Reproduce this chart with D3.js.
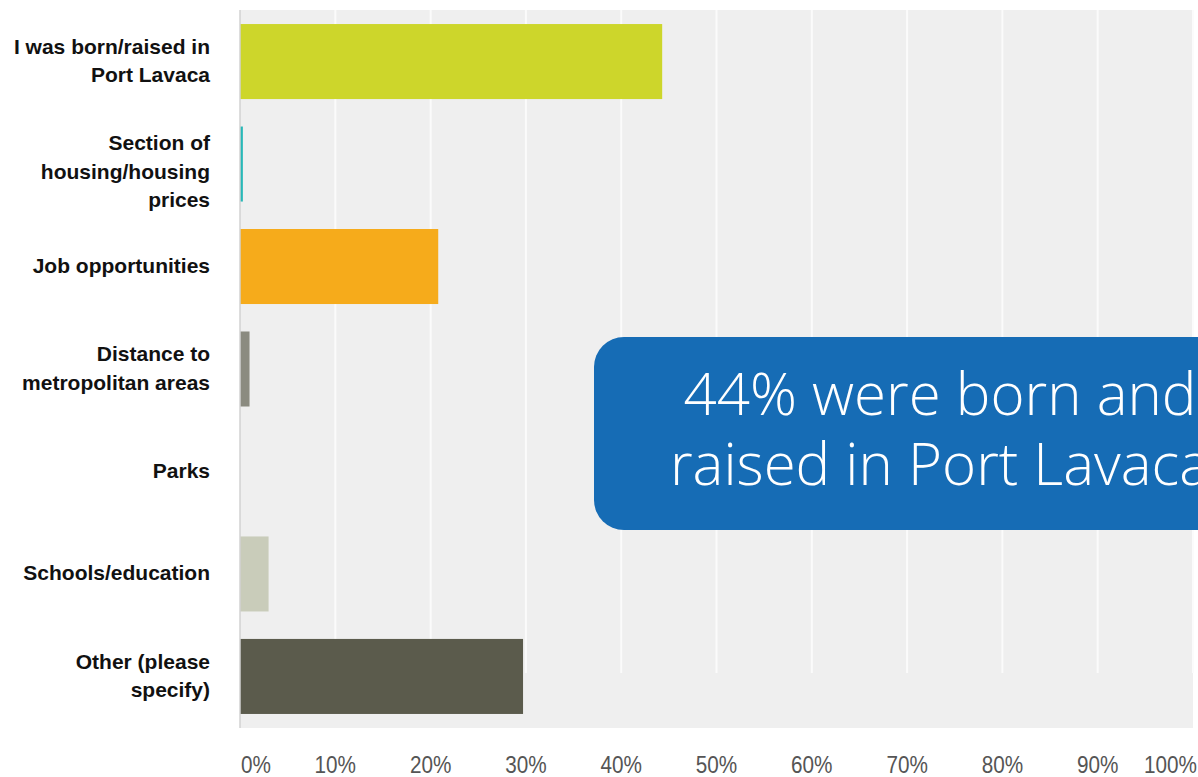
<!DOCTYPE html>
<html>
<head>
<meta charset="utf-8">
<script src="https://cdn.jsdelivr.net/npm/d3@7/dist/d3.min.js"></script>
<style>
  html, body { margin: 0; padding: 0; background: #ffffff; }
  svg { display: block; }
</style>
</head>
<body>
<svg id="chart" width="1198" height="777"></svg>
<script>
// Survey answers: reasons for living in Port Lavaca
const categories = [
  ["I was born/raised in", "Port Lavaca"],
  ["Section of", "housing/housing", "prices"],
  ["Job opportunities"],
  ["Distance to", "metropolitan areas"],
  ["Parks"],
  ["Schools/education"],
  ["Other (please", "specify)"]
];
const values = [44.3, 0.3, 20.8, 1.0, 0.0, 3.0, 29.7];
const barColors = ["#cdd62b", "#27b8b8", "#f6ab1b", "#8b8b80", "#cfd6c9", "#c9ccba", "#5b5b4c"];
const tickValues = [0, 10, 20, 30, 40, 50, 60, 70, 80, 90, 100];
const tickLabels = tickValues.map(v => v + "%");
const calloutLines = ["44% were born and", "raised in Port Lavaca"];

const svg = d3.select("#chart");
const plot = { left: 240, right: 1193, top: 10, bottom: 728 };

const x = d3.scaleLinear().domain([0, 100]).range([plot.left, plot.right]);
const y = d3.scaleBand()
  .domain(d3.range(categories.length))
  .range([plot.top, plot.bottom])
  .paddingInner(0.268)
  .paddingOuter(0.137);

// plot background
svg.append("rect")
  .attr("x", plot.left).attr("y", plot.top)
  .attr("width", plot.right - plot.left).attr("height", plot.bottom - plot.top)
  .attr("fill", "#efefef");

// vertical gridlines
svg.append("g")
  .selectAll("line")
  .data(tickValues.slice(1))
  .join("line")
  .attr("x1", d => x(d)).attr("x2", d => x(d))
  .attr("y1", plot.top).attr("y2", 673)
  .attr("stroke", "#fbfbfb")
  .attr("stroke-width", 2);

// bars
svg.append("g")
  .selectAll("rect")
  .data(values)
  .join("rect")
  .attr("x", x(0))
  .attr("y", (d, i) => y(i))
  .attr("width", d => x(d) - x(0))
  .attr("height", y.bandwidth())
  .attr("fill", (d, i) => barColors[i]);

// left axis line
svg.append("line")
  .attr("x1", plot.left).attr("x2", plot.left)
  .attr("y1", plot.top).attr("y2", plot.bottom)
  .attr("stroke", "#d2d2d2").attr("stroke-width", 1.5);

// category labels, right-aligned beside the axis
const lineH = 28.5;
const labels = svg.append("g")
  .selectAll("text")
  .data(categories)
  .join("text")
  .attr("text-anchor", "end")
  .attr("font-family", "'Liberation Sans', Arial, sans-serif")
  .attr("font-weight", "bold")
  .attr("font-size", 21)
  .attr("fill", "#111111");
labels.each(function(lines, i) {
  const cy = y(i) + y.bandwidth() / 2;
  // three-line labels sit a little lower than their band centre
  const shift = lines.length > 2 ? lineH * 0.3 : 0;
  const y0 = cy - (lines.length - 1) * lineH / 2 + shift;
  d3.select(this).selectAll("tspan")
    .data(lines)
    .join("tspan")
    .attr("x", 210)
    .attr("y", (d, j) => y0 + j * lineH)
    .attr("dy", "0.3em")
    .text(d => d);
});

// x axis tick labels (slightly condensed)
const xAxis = d3.axisBottom(x)
  .tickValues(tickValues)
  .tickFormat((d, i) => tickLabels[i])
  .tickSize(0)
  .tickPadding(0);
const gx = svg.append("g")
  .attr("transform", `translate(0, 773)`)
  .call(xAxis);
gx.select(".domain").remove();
const last = tickValues.length - 1;
gx.selectAll(".tick").each(function(d, i) {
  const t = d3.select(this);
  const tx = i === 0 ? x(d) + 1 : (i === last ? x(d) + 4 : x(d));
  t.attr("transform", `translate(${tx},0) scale(0.9,1)`);
});
gx.selectAll("text")
  .attr("font-family", "'Liberation Sans', Arial, sans-serif")
  .attr("font-size", 23)
  .attr("fill", "#555555")
  .attr("y", 0)
  .attr("dy", 0)
  .attr("text-anchor", (d, i) => i === 0 ? "start" : (i === last ? "end" : "middle"));

// callout box
const callout = svg.append("g");
callout.append("rect")
  .attr("x", 594).attr("y", 337)
  .attr("width", 700).attr("height", 193)
  .attr("rx", 30).attr("ry", 30)
  .attr("fill", "#166cb5");
const ct = callout.append("text")
  .attr("text-anchor", "middle")
  .attr("font-family", "'Open Sans', Lato, sans-serif")
  .attr("font-weight", 300)
  .attr("font-size", 54)
  .attr("fill", "#ffffff");
const spans = ct.selectAll("tspan")
  .data(calloutLines)
  .join("tspan")
  .attr("x", 940)
  .attr("y", (d, i) => 415 + i * 70)
  .text(d => d);
// size the headline so the first line spans about 513px
const w0 = spans.nodes()[0].getComputedTextLength();
if (w0 > 0) ct.attr("font-size", 54 * 513 / w0);
</script>
</body>
</html>
